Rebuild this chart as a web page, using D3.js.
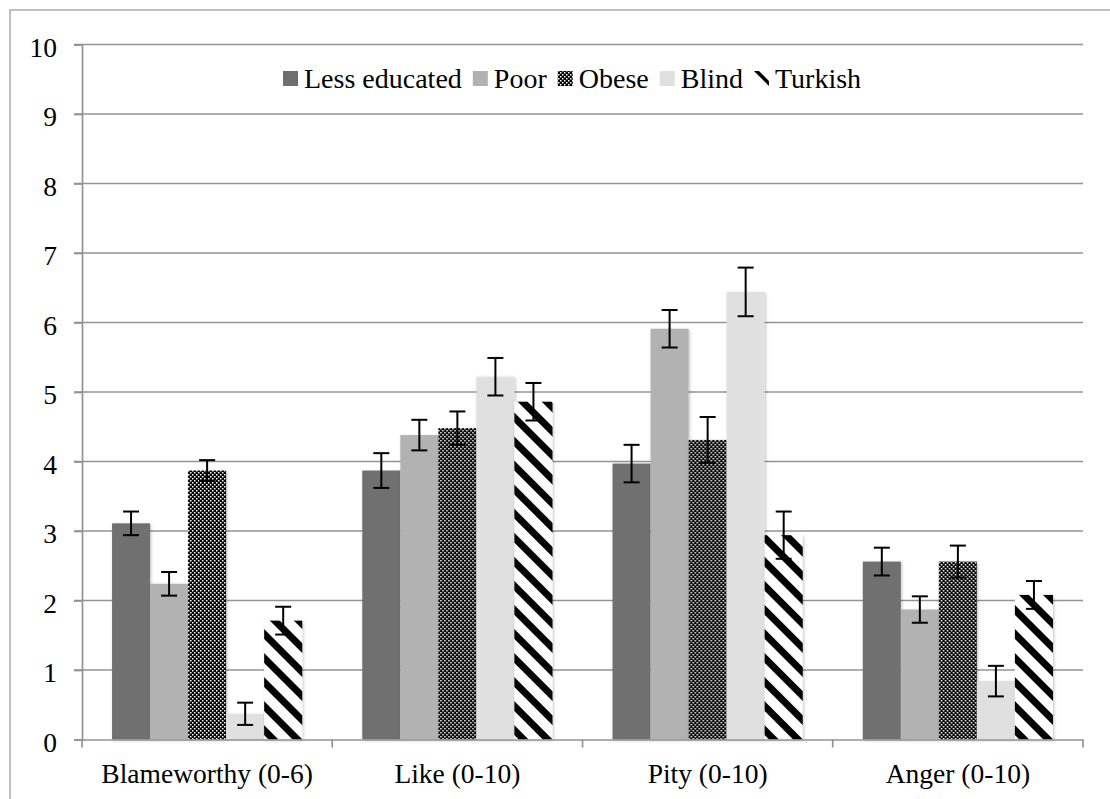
<!DOCTYPE html>
<html><head><meta charset="utf-8">
<script src="https://cdn.jsdelivr.net/npm/d3@7"></script>
<style>html,body{margin:0;padding:0;background:#fff;} svg{display:block;font-family:"Liberation Serif","Times New Roman",serif;}</style>
</head><body>
<svg id="chart" width="1110" height="799"></svg>
<script>
const categories = ["Blameworthy (0-6)", "Like (0-10)", "Pity (0-10)", "Anger (0-10)"];
const series = ["Less educated", "Poor", "Obese", "Blind", "Turkish"];
const lessEducated = [3.11, 3.87, 3.97, 2.56];
const poor         = [2.24, 4.38, 5.91, 1.87];
const obese        = [3.87, 4.48, 4.31, 2.56];
const blind        = [0.37, 5.22, 6.44, 0.84];
const turkish      = [1.71, 4.86, 2.94, 2.08];
const errLessEducated = [0.17, 0.25, 0.27, 0.20];
const errPoor         = [0.17, 0.22, 0.27, 0.19];
const errObese        = [0.15, 0.24, 0.33, 0.23];
const errBlind        = [0.16, 0.27, 0.35, 0.22];
const errTurkish      = [0.20, 0.27, 0.34, 0.20];
const yTicks = [0,1,2,3,4,5,6,7,8,9,10];

(function(){
const values = [lessEducated, poor, obese, blind, turkish];
const errs = [errLessEducated, errPoor, errObese, errBlind, errTurkish];
const fills = ["#6f6f6f", "#b2b2b2", "url(#checker)", "#e0e0e0", "url(#stripes)"];
const FS = 27.5;

const svg = d3.select("#chart");
const defs = svg.append("defs");
const chk = defs.append("pattern").attr("id","checker").attr("patternUnits","userSpaceOnUse").attr("width",4).attr("height",4);
chk.append("rect").attr("width",4).attr("height",4).attr("fill","#000");
chk.append("rect").attr("x",0).attr("y",0).attr("width",1.5).attr("height",1.5).attr("fill","#fff");
chk.append("rect").attr("x",2).attr("y",2).attr("width",1.5).attr("height",1.5).attr("fill","#fff");
const str = defs.append("pattern").attr("id","stripes").attr("patternUnits","userSpaceOnUse")
  .attr("width",17).attr("height",17).attr("patternTransform","rotate(-45)");
str.append("rect").attr("width",17).attr("height",17).attr("fill","#fff");
str.append("rect").attr("width",7).attr("height",17).attr("fill","#000");
const f = defs.append("filter").attr("id","shadow").attr("x","-20%").attr("y","-5%").attr("width","140%").attr("height","110%");
f.append("feDropShadow").attr("dx",1).attr("dy",1).attr("stdDeviation",1.8).attr("flood-color","#000").attr("flood-opacity",0.25);

svg.append("rect").attr("x",10).attr("y",10).attr("width",1120).attr("height",820)
  .attr("fill","none").attr("stroke","#ababab").attr("stroke-width",1.5);

const pLeft = 82, pRight = 1083, pTop = 44.5, pBottom = 739.5;
const x0 = d3.scaleBand().domain(categories).range([pLeft, pRight]).paddingInner(0).paddingOuter(0);
const x1 = d3.scaleBand().domain(series).range([0, x0.bandwidth()]).paddingInner(0).paddingOuter(0.79);
const y = d3.scaleLinear().domain([0, 10]).range([pBottom, pTop]);

svg.append("g").selectAll("line").data(yTicks.filter(d=>d>0)).join("line")
  .attr("x1", pLeft-8).attr("x2", pRight).attr("y1", d=>y(d)).attr("y2", d=>y(d))
  .attr("stroke","#939393").attr("stroke-width",1.7);

const yAxis = svg.append("g").attr("transform",`translate(${pLeft},0)`)
  .call(d3.axisLeft(y).tickValues(yTicks).tickSize(8).tickPadding(17).tickFormat(d3.format("d")));
yAxis.select(".domain").attr("stroke","#939393").attr("stroke-width",1.7);
yAxis.selectAll(".tick line").attr("stroke","#939393").attr("stroke-width",1.7);
yAxis.selectAll("text").attr("font-size",FS).attr("fill","#000").attr("font-family","Liberation Serif").attr("dy","0.42em");

const groups = svg.append("g").selectAll("g").data(categories).join("g")
  .attr("transform", d=>`translate(${x0(d)},0)`);
series.forEach((s, si) => {
  groups.append("rect")
    .attr("x", x1(s)).attr("width", x1.bandwidth())
    .attr("y", (d,ci)=>y(values[si][ci]))
    .attr("height", (d,ci)=>y(0)-y(values[si][ci]))
    .attr("fill", fills[si]).attr("filter","url(#shadow)");
});
series.forEach((s, si) => {
  const cx = x1(s) + x1.bandwidth()/2;
  groups.each(function(d, ci){
    const g = d3.select(this);
    const v = values[si][ci], e = errs[si][ci];
    g.append("line").attr("x1",cx).attr("x2",cx).attr("y1",y(v+e)).attr("y2",y(v-e)).attr("stroke","#000").attr("stroke-width",2);
    [v+e, v-e].forEach(t => g.append("line").attr("x1",cx-8).attr("x2",cx+8).attr("y1",y(t)).attr("y2",y(t)).attr("stroke","#000").attr("stroke-width",2));
  });
});

const xAxis = svg.append("g").attr("transform",`translate(0,${pBottom})`)
  .call(d3.axisBottom(x0).tickSize(0).tickPadding(24));
xAxis.select(".domain").attr("stroke","#939393").attr("stroke-width",1.7);
xAxis.selectAll("text").attr("font-size",FS).attr("fill","#000").attr("font-family","Liberation Serif");
svg.append("g").selectAll("line").data(d3.range(categories.length+1)).join("line")
  .attr("x1", i=>pLeft + i*x0.step()).attr("x2", i=>pLeft + i*x0.step())
  .attr("y1", pBottom).attr("y2", pBottom+8).attr("stroke","#939393").attr("stroke-width",1.7);

const legend = svg.append("g");
let lx = 283;
series.forEach((s, si) => {
  legend.append("rect").attr("x", lx).attr("y", 71).attr("width",15).attr("height",15)
    .attr("fill", si===4 ? "#fff" : fills[si]);
  if (si===4) {
    legend.append("path").attr("d",`M${lx},71L${lx+5},71L${lx+15},81L${lx+15},86Z`).attr("fill","#000");
  }
  const t = legend.append("text").attr("x", lx+21).attr("y", 88).attr("font-size",28).attr("fill","#000").text(s);
  lx += 21 + t.node().getComputedTextLength() + 11;
});
})();
</script>
</body></html>
